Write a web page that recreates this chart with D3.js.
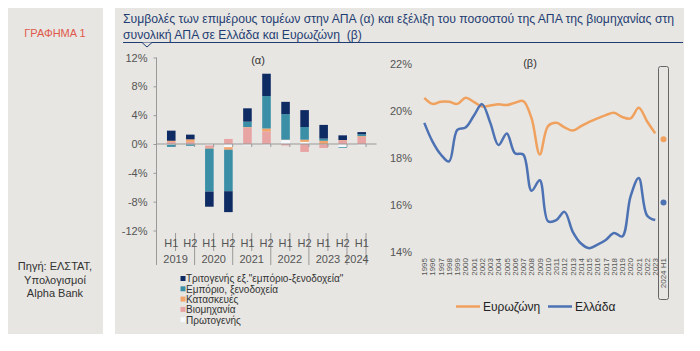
<!DOCTYPE html>
<html>
<head>
<meta charset="utf-8">
<script src="https://cdn.jsdelivr.net/npm/d3@7"></script>
<style>
  body { margin: 0; background: #ffffff; }
  svg { display: block; font-family: "Liberation Sans", Arial, sans-serif; }
</style>
</head>
<body>
<div id="chart"></div>
<script>
/* Graph 1: sector contributions to GVA (a) and industry share of GVA (b) */

// (a) half-year periods
const halfLabels = ["H1", "H2", "H1", "H2", "H1", "H2", "H1", "H2", "H1", "H2", "H1"];
const yearLabels = ["2019", "2020", "2021", "2022", "2023", "2024"];
const periods = ["2019H1", "2019H2", "2020H1", "2020H2", "2021H1", "2021H2",
                 "2022H1", "2022H2", "2023H1", "2023H2", "2024H1"];

// (a) contributions, percentage points
const primary      = [-0.1, -0.05, -0.2, -0.45, -0.2, -0.15, 0.55, 0.3, -0.05, -0.45, -0.2];
const industry     = [0.3, 0.3, -0.35, 0.7, 2.3, 1.75, -0.2, -1.1, -0.5, 0.5, 1.0];
const construction = [0.15, 0.35, -0.1, -0.35, 0.05, 0.4, 0.05, 0.3, 0.45, 0.05, 0.1];
const trade        = [-0.3, -0.2, -5.95, -5.75, 0.75, 4.5, 3.55, 1.75, 0.3, -0.1, 0.25];
const tertiary     = [1.4, 0.65, -2.1, -2.9, 1.85, 3.1, 1.7, 2.35, 1.9, 0.65, 0.3];

const seriesNames = ["Πρωτογενής", "Βιομηχανία", "Κατασκευές", "Εμπόριο, ξενοδοχεία",
                     "Τριτογενής εξ.\"εμπόριο-ξενοδοχεία\""];
const yTicksA = [-12, -8, -4, 0, 4, 8, 12];

// (b) industry share of total GVA, %
const lineYears = ["1995", "1996", "1997", "1998", "1999", "2000", "2001", "2002", "2003", "2004",
                   "2005", "2006", "2007", "2008", "2009", "2010", "2011", "2012", "2013", "2014",
                   "2015", "2016", "2017", "2018", "2019", "2020", "2021", "2022", "2023", "2024 H1"];
const eurozone = [20.57, 20.31, 20.4, 20.4, 20.31, 20.57, 20.4, 20.2, 20.24, 20.29,
                  20.26, 20.36, 20.43, 19.7, 18.15, 19.36, 19.5, 19.31, 19.17, 19.36,
                  19.54, 19.69, 19.83, 19.93, 19.75, 19.69, 20.14, 19.57, 19.05];
const greece = [19.5, 18.7, 18.15, 17.85, 19.2, 19.3, 19.8, 20.3, 19.5, 18.55,
                19.05, 18.2, 18.15, 16.6, 17.05, 15.3, 15.35, 15.7, 14.85, 14.35,
                14.15, 14.3, 14.5, 14.8, 14.65, 16.35, 17.15, 15.55, 15.35];
const eurozoneLast = 18.8, greeceLast = 16.1;  // 2024 H1
const yTicksB = [14, 16, 18, 20, 22];

const width = 700, height = 351;
const panelFill = "#e7e6e2";
const colors = ["#f6f8fb", "#e8a3a3", "#f2a46a", "#3a8ea6", "#0f2b63"];

let svg = d3.select("#chart")
    .append("svg")
    .attr("width", width)
    .attr("height", height);

//background panels
svg.append("rect").attr("x", 8).attr("y", 8).attr("width", 95).attr("height", 326).attr("fill", panelFill);
svg.append("rect").attr("x", 115).attr("y", 8).attr("width", 569).attr("height", 326).attr("fill", panelFill);

svg.append("text").attr("x", 55).attr("y", 37).attr("text-anchor", "middle")
    .style("font-size", "11px").style("fill", "#e0584a").text("ΓΡΑΦΗΜΑ 1");

["Πηγή: ΕΛΣΤΑΤ,", "Υπολογισμοί", "Alpha Bank"].forEach((t, i) => {
    svg.append("text").attr("x", 55).attr("y", 270 + i * 13.5).attr("text-anchor", "middle")
        .style("font-size", "11px").style("fill", "#333").text(t);
});

//title
const titleLines = ["Συμβολές των επιμέρους τομέων στην ΑΠΑ (α) και εξέλιξη του ποσοστού της ΑΠΑ της βιομηχανίας στη",
                    "συνολική ΑΠΑ σε Ελλάδα και Ευρωζώνη  (β)"];
titleLines.forEach((t, i) => {
    svg.append("text").attr("x", 123).attr("y", 23 + i * 16)
        .style("font-size", "12.2px").style("fill", "#1f3d73")
        .style("white-space", "pre").text(t);
});
svg.append("line").attr("x1", 123).attr("x2", 683).attr("y1", 42.5).attr("y2", 42.5)
    .attr("stroke", "#1f3d73");
svg.append("path").attr("d", "M142,42.5 L147,47 L152,42.5")
    .attr("fill", panelFill).attr("stroke", "#1f3d73");

// ---------- (a) stacked bars ----------
let x = d3.scaleBand()
    .domain(periods)
    .range([156.5, 376.5])
    .padding(0.55);

let y = d3.scaleLinear()
    .domain([-12, 12])
    .range([230.5, 57.5]);

const table = periods.map((p, i) => ({
    period: p, primary: primary[i], industry: industry[i], construction: construction[i],
    trade: trade[i], tertiary: tertiary[i]
}));
const keys = ["primary", "industry", "construction", "trade", "tertiary"];
const stacked = d3.stack().keys(keys).offset(d3.stackOffsetDiverging)(table);

//y axis
svg.append("g")
    .attr("transform", "translate(156.5,0)")
    .call(d3.axisLeft(y).tickValues(yTicksA).tickFormat(d => d + "%").tickSize(3).tickPadding(6))
    .call(g => g.select(".domain").remove())
    .call(g => g.selectAll("line").attr("stroke", "#999"))
    .call(g => g.selectAll("text").style("font-size", "11px").style("fill", "#555").style("font-family", "inherit"));
svg.append("line").attr("x1", 156.5).attr("x2", 156.5).attr("y1", 57.5).attr("y2", 265)
    .attr("stroke", "#999");

//bars
svg.selectAll(".layer")
    .data(stacked)
    .join("g")
    .attr("class", "layer")
    .attr("fill", (d, i) => colors[i])
    .selectAll("rect")
    .data(d => d)
    .join("rect")
    .attr("x", d => x(d.data.period))
    .attr("width", x.bandwidth())
    .attr("y", d => y(Math.max(d[0], d[1])))
    .attr("height", d => Math.abs(y(d[0]) - y(d[1])));

//zero line with ticks
svg.append("line").attr("x1", 156.5).attr("x2", 376.5).attr("y1", y(0)).attr("y2", y(0))
    .attr("stroke", "#999");
const step = x.step();
for (let k = 0; k <= periods.length; k++) {
    const bx = 156.5 + k * step;
    svg.append("line").attr("x1", bx).attr("x2", bx).attr("y1", y(0)).attr("y2", y(0) + 3)
        .attr("stroke", "#999");
    //separators below the plot
    const isYear = k % 2 === 0 || k === periods.length;
    if (k > 0) {
        svg.append("line").attr("x1", bx).attr("x2", bx).attr("y1", 233).attr("y2", isYear ? 265 : 251)
            .attr("stroke", "#999");
    }
}

//H1/H2 labels
svg.selectAll(".half")
    .data(periods)
    .join("text")
    .attr("x", d => x(d) + x.bandwidth() / 2)
    .attr("y", 247)
    .attr("text-anchor", "middle")
    .style("font-size", "11px").style("fill", "#555")
    .text((d, i) => halfLabels[i]);

//year labels
svg.selectAll(".year")
    .data(yearLabels)
    .join("text")
    .attr("x", (d, i) => i < 5 ? 156.5 + (2 * i + 1) * step : 156.5 + 10.5 * step)
    .attr("y", 263)
    .attr("text-anchor", "middle")
    .style("font-size", "11px").style("fill", "#555")
    .text(d => d);

svg.append("text").attr("x", 258).attr("y", 64).attr("text-anchor", "middle")
    .style("font-size", "11px").style("fill", "#333").text("(α)");

//legend (a), reverse order
const legendA = svg.append("g");
[4, 3, 2, 1, 0].forEach((s, i) => {
    const ly = 279 + i * 10.3;
    legendA.append("rect").attr("x", 180.5).attr("y", ly - 3).attr("width", 5).attr("height", 5)
        .attr("fill", colors[s]);
    legendA.append("text").attr("x", 186).attr("y", ly + 3.3)
        .style("font-size", "10px").style("fill", "#333").text(seriesNames[s]);
});

// ---------- (b) lines ----------
let xb = d3.scalePoint()
    .domain(lineYears)
    .range([424.3, 663.5]);

let yb = d3.scaleLinear()
    .domain([14, 22])
    .range([251.7, 64.3]);

svg.append("g")
    .attr("transform", "translate(412,0)")
    .call(d3.axisLeft(yb).tickValues(yTicksB).tickFormat(d => d + "%").tickSize(0).tickPadding(0))
    .call(g => g.select(".domain").remove())
    .call(g => g.selectAll("text").style("font-size", "11px").style("fill", "#555").style("font-family", "inherit"));

svg.selectAll(".yr")
    .data(lineYears)
    .join("text")
    .attr("transform", d => `translate(${xb(d)},258) rotate(-90)`)
    .attr("text-anchor", "end")
    .attr("dy", "0.35em")
    .style("font-size", "8px").style("fill", "#555")
    .text(d => d);

//highlight box for 2024 H1
svg.append("rect").attr("x", 658.5).attr("y", 66.5).attr("width", 10).attr("height", 233)
    .attr("rx", 2).attr("fill", "none").attr("stroke", "#666").attr("stroke-width", 1);

const line = d3.line()
    .x((d, i) => xb(lineYears[i]))
    .y(d => yb(d))
    .curve(d3.curveCatmullRom.alpha(0.5));

svg.append("path").datum(eurozone).attr("d", line)
    .attr("fill", "none").attr("stroke", "#f0a15e").attr("stroke-width", 2.5);
svg.append("path").datum(greece).attr("d", line)
    .attr("fill", "none").attr("stroke", "#4d72b3").attr("stroke-width", 2.5);

svg.append("circle").attr("cx", xb("2024 H1")).attr("cy", yb(eurozoneLast)).attr("r", 3).attr("fill", "#f0a15e");
svg.append("circle").attr("cx", xb("2024 H1")).attr("cy", yb(greeceLast)).attr("r", 3).attr("fill", "#4d72b3");

svg.append("text").attr("x", 530).attr("y", 67).attr("text-anchor", "middle")
    .style("font-size", "11px").style("fill", "#333").text("(β)");

//legend (b)
[["Ευρωζώνη", "#f0a15e", 456], ["Ελλάδα", "#4d72b3", 548]].forEach(([name, c, lx]) => {
    svg.append("line").attr("x1", lx).attr("x2", lx + 24).attr("y1", 306.5).attr("y2", 306.5)
        .attr("stroke", c).attr("stroke-width", 2.5);
    svg.append("text").attr("x", lx + 27).attr("y", 311)
        .style("font-size", "12px").style("fill", "#222").text(name);
});
</script>
</body>
</html>
